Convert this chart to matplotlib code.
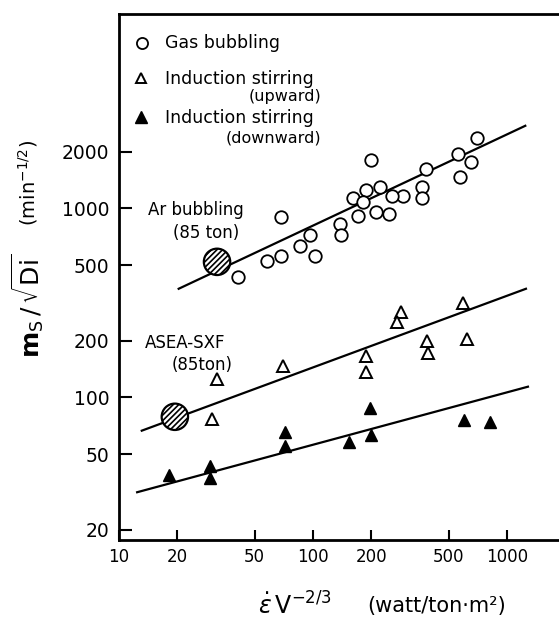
import matplotlib
matplotlib.use('Agg')
import matplotlib.pyplot as plt

plt.rcParams['font.family'] = ['DejaVu Sans']
plt.rcParams['hatch.linewidth'] = 1.2
plt.rcParams['mathtext.fontset'] = 'dejavusans'

# gas bubbling (open circles)
gas_x = [200, 700, 560, 650, 570, 380, 365, 365, 290, 255, 220, 188, 160, 180,
         210, 245, 170, 138, 68, 140, 96, 86, 102, 68, 58, 41]
gas_y = [1800, 2350, 1950, 1760, 1460, 1620, 1300, 1130, 1170, 1170, 1300, 1260, 1140, 1080,
         960, 940, 910, 830, 900, 720, 720, 630, 560, 560, 525, 435]

# induction stirring, upward (open triangles)
up_x = [32, 70, 285, 270, 590, 620, 385, 390, 188, 188, 30]
up_y = [125, 146, 285, 250, 315, 205, 200, 172, 166, 136, 77]

# induction stirring, downward (filled triangles)
down_x = [18, 29.5, 29.5, 72, 72, 197, 200, 154, 600, 815]
down_y = [39, 43.5, 37.5, 66, 55.5, 88, 63, 58, 76, 74]

# fitted lines
gas_fit_x = [20.3, 1240]
gas_fit_y = [376, 2740]
up_fit_x = [13.1, 1250]
up_fit_y = [66.7, 376]
down_fit_x = [12.4, 1280]
down_fit_y = [31.5, 114]

# plant data (hatched circles)
ar_x, ar_y = [32], [522]
asea_x, asea_y = [19.4], [79]

xticks = [10, 20, 50, 100, 200, 500, 1000]
yticks = [20, 50, 100, 200, 500, 1000, 2000]

fig = plt.figure(figsize=(5.59, 6.21), dpi=100)
ax = fig.add_axes([119/559, 81/621, 440/559, 526/621])

ax.plot(gas_fit_x, gas_fit_y, color='black', lw=1.6)
ax.plot(up_fit_x, up_fit_y, color='black', lw=1.6)
ax.plot(down_fit_x, down_fit_y, color='black', lw=1.6)

ax.plot(gas_x, gas_y, 'o', ms=9, mfc='white', mec='black', mew=1.3, ls='none')
ax.plot(up_x, up_y, '^', ms=8, mfc='white', mec='black', mew=1.4, ls='none')
ax.plot(down_x, down_y, '^', ms=9, mfc='black', mec='black', ls='none')

ax.scatter(ar_x + asea_x, ar_y + asea_y, s=19**2, facecolor='white', edgecolor='black',
           hatch='//////', linewidth=1.6, zorder=5)

ax.set_xscale('log')
ax.set_yscale('log')
ax.set_xlim(10, 1850)
ax.set_ylim(17.6, 10700)
ax.set_xticks(xticks)
ax.set_xticklabels([str(t) for t in xticks])
ax.set_yticks(yticks)
ax.set_yticklabels([str(t) for t in yticks])
ax.minorticks_off()
ax.tick_params(axis='x', direction='in', length=7, width=1.5, labelsize=12, pad=6)
ax.tick_params(axis='y', direction='in', length=9, width=1.5, labelsize=13.5, pad=7)

ax.spines['right'].set_visible(False)
for s in ['left', 'bottom', 'top']:
    ax.spines[s].set_linewidth(2)

# legend drawn by hand
ax.plot([0.0516], [0.945], 'o', ms=8, mfc='white', mec='black', mew=1.3, transform=ax.transAxes, clip_on=False)
ax.text(0.1045, 0.945, 'Gas bubbling', transform=ax.transAxes, fontsize=12.5, va='center')
ax.plot([0.05], [0.878], '^', ms=7, mfc='white', mec='black', mew=1.4, transform=ax.transAxes, clip_on=False)
ax.text(0.1045, 0.876, 'Induction stirring', transform=ax.transAxes, fontsize=12.5, va='center')
ax.text(0.4607, 0.843, '(upward)', transform=ax.transAxes, fontsize=11.5, va='center', ha='right')
ax.plot([0.05], [0.804], '^', ms=8, mfc='black', mec='black', transform=ax.transAxes, clip_on=False)
ax.text(0.1045, 0.802, 'Induction stirring', transform=ax.transAxes, fontsize=12.5, va='center')
ax.text(0.4607, 0.764, '(downward)', transform=ax.transAxes, fontsize=11.5, va='center', ha='right')

ax.text(0.066, 0.627, 'Ar bubbling', transform=ax.transAxes, fontsize=12, va='center')
ax.text(0.122, 0.584, '(85 ton)', transform=ax.transAxes, fontsize=12, va='center')
ax.text(0.059, 0.3745, 'ASEA-SXF', transform=ax.transAxes, fontsize=12, va='center')
ax.text(0.12, 0.333, '(85ton)', transform=ax.transAxes, fontsize=12, va='center')

# axis labels
fig.text(28/559, 1 - 306/621, r'$\mathbf{m}_{\mathrm{S}}\,/\,\sqrt{\mathrm{Di}}$',
         rotation=90, fontsize=18, ha='center', va='center')
fig.text(28/559, 1 - 183/621, r'(min$^{-1/2}$)', rotation=90, fontsize=14,
         ha='center', va='center')
fig.text(295/559, 1 - 606/621, r'$\dot{\varepsilon}\,\mathrm{V}^{-2/3}$', fontsize=17,
         ha='center', va='center')
fig.text(437/559, 1 - 606/621, '(watt/ton·m²)', fontsize=15, ha='center', va='center')

fig.savefig('out.png', dpi=100)
